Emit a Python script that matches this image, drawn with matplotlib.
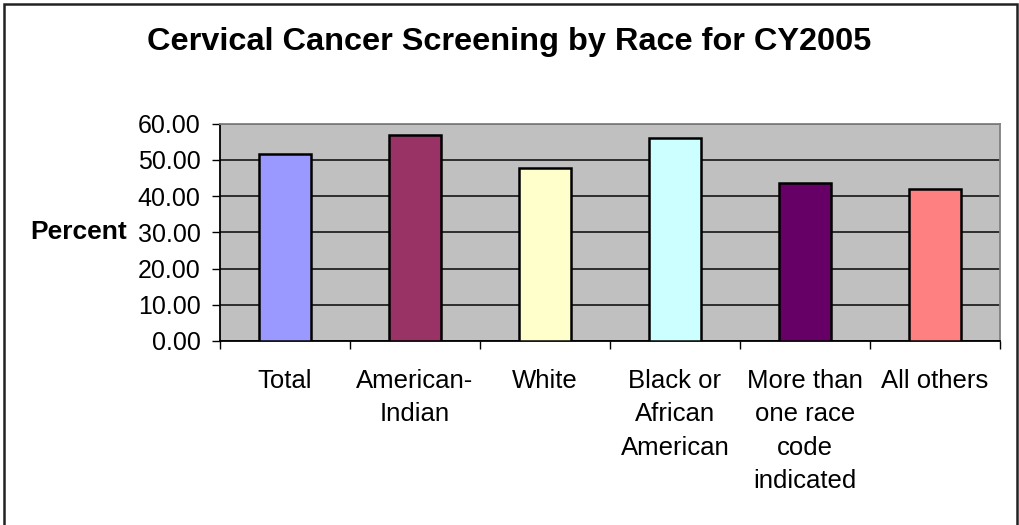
import matplotlib
matplotlib.use("Agg")
import matplotlib.pyplot as plt
from matplotlib.patches import Rectangle

categories = ["Total", "American-\nIndian", "White", "Black or\nAfrican\nAmerican",
              "More than\none race\ncode\nindicated", "All others"]
values = [51.7, 56.7, 47.8, 56.1, 43.5, 41.8]
colors = ["#9999FF", "#993366", "#FFFFCC", "#CCFFFF", "#660066", "#FF8080"]
yticks = [0, 10, 20, 30, 40, 50, 60]

plt.rcParams['font.family'] = ['Liberation Sans', 'DejaVu Sans']

fig = plt.figure(figsize=(10.19, 5.25), dpi=100)
ax = fig.add_axes([220/1019, 1-341/525, 780/1019, (341-123.5)/525])
ax.set_facecolor("#C0C0C0")

x = list(range(len(categories)))
ax.bar(x, values, width=0.4, color=colors, edgecolor="black", linewidth=1.8, zorder=3)

ax.set_xlim(-0.5, len(categories) - 0.5)
ax.set_ylim(0, 60)
ax.set_yticks(yticks)
ax.set_yticklabels([f"{v:.2f}" for v in yticks], fontsize=18)
ax.yaxis.grid(True, color="#222222", linewidth=1.3, zorder=1)
ax.set_axisbelow(True)

ax.set_xticks([i - 0.5 for i in range(len(categories) + 1)])
ax.set_xticklabels([])
ax.set_xticks(x, minor=True)
ax.set_xticklabels(categories, minor=True, fontsize=18.5, linespacing=1.5, va="top")
ax.tick_params(axis="x", which="minor", length=0, pad=20)
ax.tick_params(axis="x", which="major", length=6, width=1, color="black", direction="out")
ax.tick_params(axis="y", length=6, width=1, color="black", direction="out", pad=8)

for s in ["left", "bottom"]:
    ax.spines[s].set_color("black")
    ax.spines[s].set_linewidth(1.3)
for s in ["top", "right"]:
    ax.spines[s].set_color("#808080")
    ax.spines[s].set_linewidth(1.3)

fig.text(127/1019, 1-232/525, "Percent", fontsize=19, fontweight="bold",
         ha="right", va="center")
fig.text(509/1019, 1-42/525, "Cervical Cancer Screening by Race for CY2005",
         fontsize=23.4, fontweight="bold", ha="center", va="center")

fig.patches.append(Rectangle((4/1019, -0.02), (1016.5-4)/1019, 1.02 - 4/525 + 0.0,
                             transform=fig.transFigure, fill=False,
                             edgecolor="#222222", linewidth=1.8))

fig.savefig("out.png", dpi=100)
